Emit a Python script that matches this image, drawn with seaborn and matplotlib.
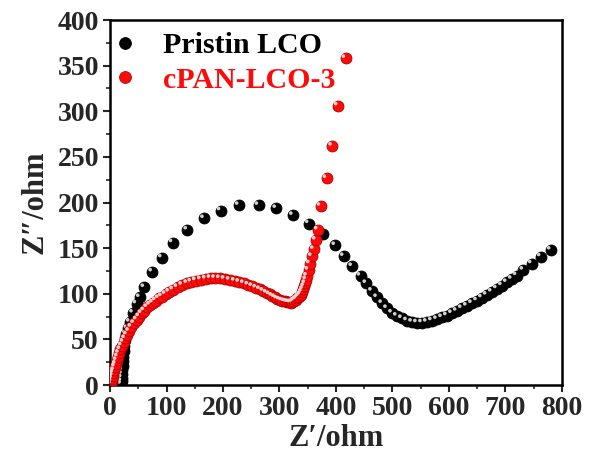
import matplotlib
matplotlib.use("Agg")
import matplotlib.pyplot as plt
from matplotlib.transforms import ScaledTranslation
from matplotlib.lines import Line2D
from matplotlib.ticker import MultipleLocator
import seaborn as sns
import pandas as pd

# ---------------- data ----------------
pristine_x = [20, 20.5, 21, 21.5, 22, 22.5, 23, 23.5, 24, 25, 26, 28, 31, 35, 41, 47, 53, 61, 75, 92,
              111, 137, 166.6, 196, 228, 263, 294.5, 324, 352, 377.5, 399, 414, 429, 443.5, 454, 464,
              473, 482, 490.6, 499.5, 508, 517, 526, 535, 543.6, 552.5, 561, 570, 579, 588, 596.6,
              605.5, 614, 623, 632, 641, 650, 658.6, 667, 676, 685, 694, 702.6, 711.5, 720, 732,
              746.8, 762.7, 780.4]
pristine_y = [1, 4, 8, 12, 16, 21, 26, 31, 37, 43, 49, 56, 62, 69, 79, 89, 96, 107, 124, 139.5,
              156, 170, 182.6, 191, 197, 197, 193.6, 186, 177, 165.5, 153, 141, 130, 119.5, 111.4, 103,
              96, 89.5, 84, 79, 75.6, 73, 70.5, 69, 68.3, 68.3, 69, 70.5, 72, 74, 76,
              78.5, 81, 84, 86.6, 89.5, 92.4, 95.7, 98.6, 102, 105.6, 109, 112.5, 116, 120, 126,
              133, 140.6, 148]

cpan_x = [2, 3, 4, 5, 6, 7.5, 9, 10.5, 12, 14, 16, 18.5, 21, 24, 27, 30, 34, 38, 43, 47.5, 52, 56,
          60.7, 66, 71, 76, 81, 86.5, 92, 98.5, 105, 112, 119.6, 128, 137, 144, 152, 161, 169.6,
          178, 186, 194.5, 203, 212, 221, 229, 237, 245, 252, 259, 265.6, 271.5, 277.4, 282.5,
          287.4, 292, 296, 300.5, 305, 309, 312.7, 316.5, 319.8, 323, 325.6, 329, 331.6, 334.5,
          337.5, 340, 342, 344, 346, 347.5, 349, 351.5, 354, 357.5, 361, 364.5, 368, 372.8,
          383.4, 393.4, 403.4, 417]
cpan_y = [1, 4, 7, 10, 13, 16, 20, 23, 27, 31, 35, 39, 43, 47, 51, 55, 59, 63.5, 67.6, 71.5, 75,
          78.5, 81.5, 85, 87.7, 90, 92.5, 95, 97, 99.5, 102, 104.5, 107, 109.5, 111.5, 113, 114.5,
          115.5, 116.3, 117, 117, 116.8, 116, 115, 114, 112.8, 111.4, 109.8, 108.2, 106.5, 104.8,
          103, 101, 99.2, 97.5, 96, 94.6, 93.4, 92.4, 91.6, 91, 90.5, 90.2, 90.8, 92, 93.5, 95,
          97, 99, 101.8, 104.8, 108, 111.4, 115.5, 119.5, 126, 133, 141, 148.7, 159, 170, 196,
          226.5, 262, 306, 358]

series_names = ["Pristin LCO", "cPAN-LCO-3"]
series_colors = ["#000000", "#ff0a0a"]
edge_colors = ["#000000", "#b00000"]
highlight_colors = ["#cfcfcf", "#ffd0d0"]

x_ticks = [0, 100, 200, 300, 400, 500, 600, 700, 800]
y_ticks = [0, 50, 100, 150, 200, 250, 300, 350, 400]

# ---------------- style ----------------
sns.set_style("ticks")
plt.rcParams["font.family"] = ["Liberation Serif", "DejaVu Serif"]
plt.rcParams["font.weight"] = "bold"
plt.rcParams["axes.labelweight"] = "bold"

fig = plt.figure(figsize=(5.89, 4.66), dpi=100)
ax = fig.add_axes([0.1868, 0.1738, 0.7672, 0.7832])

frames = []
for name, xs, ys in zip(series_names, [pristine_x, cpan_x], [pristine_y, cpan_y]):
    frames.append(pd.DataFrame({"x": xs, "y": ys, "series": name}))
df = pd.concat(frames, ignore_index=True)

hl_offset = ax.transData + ScaledTranslation(-1.6 / 72, 1.6 / 72, fig.dpi_scale_trans)
for i, name in enumerate(series_names):
    sub = df[df["series"] == name]
    sns.scatterplot(data=sub, x="x", y="y", ax=ax, color=series_colors[i],
                    edgecolor=edge_colors[i], linewidth=0.6, s=62, legend=False,
                    zorder=3 + 2 * i)
    sns.scatterplot(data=sub, x="x", y="y", ax=ax, color=highlight_colors[i],
                    edgecolor="none", linewidth=0, s=7, legend=False,
                    transform=hl_offset, zorder=4 + 2 * i)

ax.set_xlim(0, 800)
ax.set_ylim(0, 400)
ax.set_xticks(x_ticks)
ax.set_yticks(y_ticks)
ax.xaxis.set_minor_locator(MultipleLocator(50))
ax.yaxis.set_minor_locator(MultipleLocator(25))
ax.tick_params(axis="both", which="major", direction="out", length=5, width=1.5,
               labelsize=20, pad=3, top=False, right=False)
ax.tick_params(axis="both", which="minor", direction="out", length=3, width=1.2,
               top=False, right=False)
for lab in ax.get_xticklabels() + ax.get_yticklabels():
    lab.set_fontweight("bold")

for sp in ax.spines.values():
    sp.set_visible(True)
    sp.set_linewidth(1.8)
    sp.set_color("black")

ax.set_xlabel("Z\u2032/ohm", fontsize=22, fontweight="bold", labelpad=2)
ax.set_ylabel("Z\u2033/ohm", fontsize=22, fontweight="bold", labelpad=6)

handles = [Line2D([], [], linestyle="none", marker="o", markersize=8.5,
                  markerfacecolor=series_colors[i], markeredgecolor=edge_colors[i],
                  markeredgewidth=0.6) for i in range(2)]
leg = ax.legend(handles, series_names, loc="upper left", frameon=False,
                prop={"size": 21.5, "weight": "bold"}, handletextpad=0.88,
                borderaxespad=0.1, borderpad=0.0, labelspacing=0.25, handlelength=0.8,
                bbox_to_anchor=(0.0, 0.975))
for txt, col in zip(leg.get_texts(), series_colors):
    txt.set_color(col)

fig.savefig("out.png", dpi=100)
